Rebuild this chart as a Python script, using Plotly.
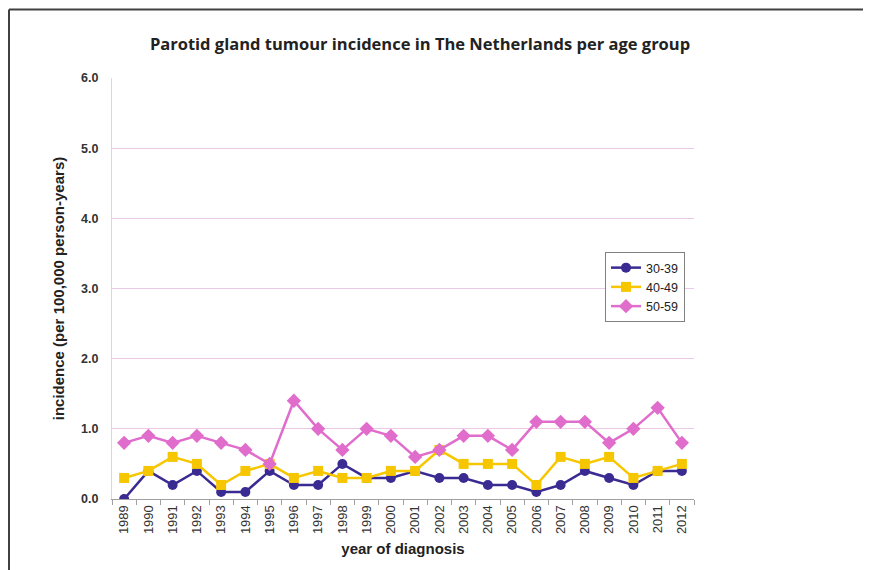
import plotly.graph_objects as go

years = [str(y) for y in range(1989, 2013)]
age_30_39 = [0.0, 0.4, 0.2, 0.4, 0.1, 0.1, 0.4, 0.2, 0.2, 0.5, 0.3, 0.3,
             0.4, 0.3, 0.3, 0.2, 0.2, 0.1, 0.2, 0.4, 0.3, 0.2, 0.4, 0.4]
age_40_49 = [0.3, 0.4, 0.6, 0.5, 0.2, 0.4, 0.5, 0.3, 0.4, 0.3, 0.3, 0.4,
             0.4, 0.7, 0.5, 0.5, 0.5, 0.2, 0.6, 0.5, 0.6, 0.3, 0.4, 0.5]
age_50_59 = [0.8, 0.9, 0.8, 0.9, 0.8, 0.7, 0.5, 1.4, 1.0, 0.7, 1.0, 0.9,
             0.6, 0.7, 0.9, 0.9, 0.7, 1.1, 1.1, 1.1, 0.8, 1.0, 1.3, 0.8]
y_ticks = [0, 1, 2, 3, 4, 5, 6]
y_tick_labels = ["0.0", "1.0", "2.0", "3.0", "4.0", "5.0", "6.0"]

OFF = 8  # page body margin
W, H = 871 - OFF, 570 - OFF
L, R, T, B = 112 - OFF, 694 - OFF, 78 - OFF, 499 - OFF

fig = go.Figure()
series = [
    ("30-39", age_30_39, "#3a2b92", "circle", 10),
    ("40-49", age_40_49, "#f6c700", "square", 10),
    ("50-59", age_50_59, "#e06ccc", "diamond", 11),
]
for name, vals, col, sym, sz in series:
    fig.add_trace(go.Scatter(
        x=years, y=vals, name=name, mode="lines+markers",
        line=dict(color=col, width=2.5),
        marker=dict(symbol=sym, size=sz, color=col),
    ))

pw = R - L
ph = B - T
def px(x):
    return (x - OFF - L) / pw
def py(y):
    return (B - (y - OFF)) / ph

fig.update_layout(
    width=W, height=H,
    margin=dict(l=L, r=W - R, t=T, b=H - B, pad=0),
    paper_bgcolor="white", plot_bgcolor="white",
    title=dict(text="Parotid gland tumour incidence in The Netherlands per age group",
               x=(420 - OFF) / W, xanchor="center", y=1 - (44 - OFF) / H, yanchor="middle",
               font=dict(family="Open Sans", size=16.5, color="#222222", weight="bold")),
    font=dict(family="Liberation Sans", color="#333333"),
    xaxis=dict(
        type="category", range=[-0.5, 23.5],
        showline=True, linecolor="#a0a0a0", linewidth=1,
        ticks="outside", ticklen=5, tickcolor="#a0a0a0", tickson="boundaries",
        showgrid=False, tickangle=-90,
        tickfont=dict(size=13, color="#333333"),
        title=dict(text="year of diagnosis", standoff=10,
                   font=dict(size=15, color="#222222", weight="bold")),
    ),
    yaxis=dict(
        range=[0, 6], tickvals=y_ticks, ticktext=y_tick_labels,
        showline=True, linecolor="#d8d8d8", linewidth=1,
        showgrid=True, gridcolor="#ebc8e6", gridwidth=1,
        zeroline=False, ticks="", ticklabelstandoff=10,
        tickfont=dict(size=12.5, color="#333333", weight="bold"),
        title=dict(text="incidence (per 100,000 person-years)", standoff=12,
                   font=dict(size=15, color="#222222", weight="bold")),
    ),
    legend=dict(
        x=px(605), y=py(252), xanchor="left", yanchor="top",
        bordercolor="#808080", borderwidth=1, bgcolor="white",
        font=dict(size=12.5, color="#222222"), tracegroupgap=2,
        itemwidth=30,
    ),
    shapes=[
        dict(type="line", xref="paper", yref="paper",
             x0=px(OFF + 1), x1=px(OFF + 1), y0=py(572), y1=py(9.5),
             line=dict(color="#404040", width=2), layer="below"),
        dict(type="line", xref="paper", yref="paper",
             x0=px(OFF + 1), x1=px(875), y0=py(9.5), y1=py(9.5),
             line=dict(color="#404040", width=2), layer="below"),
    ],
)

fig.write_html("out.html")
